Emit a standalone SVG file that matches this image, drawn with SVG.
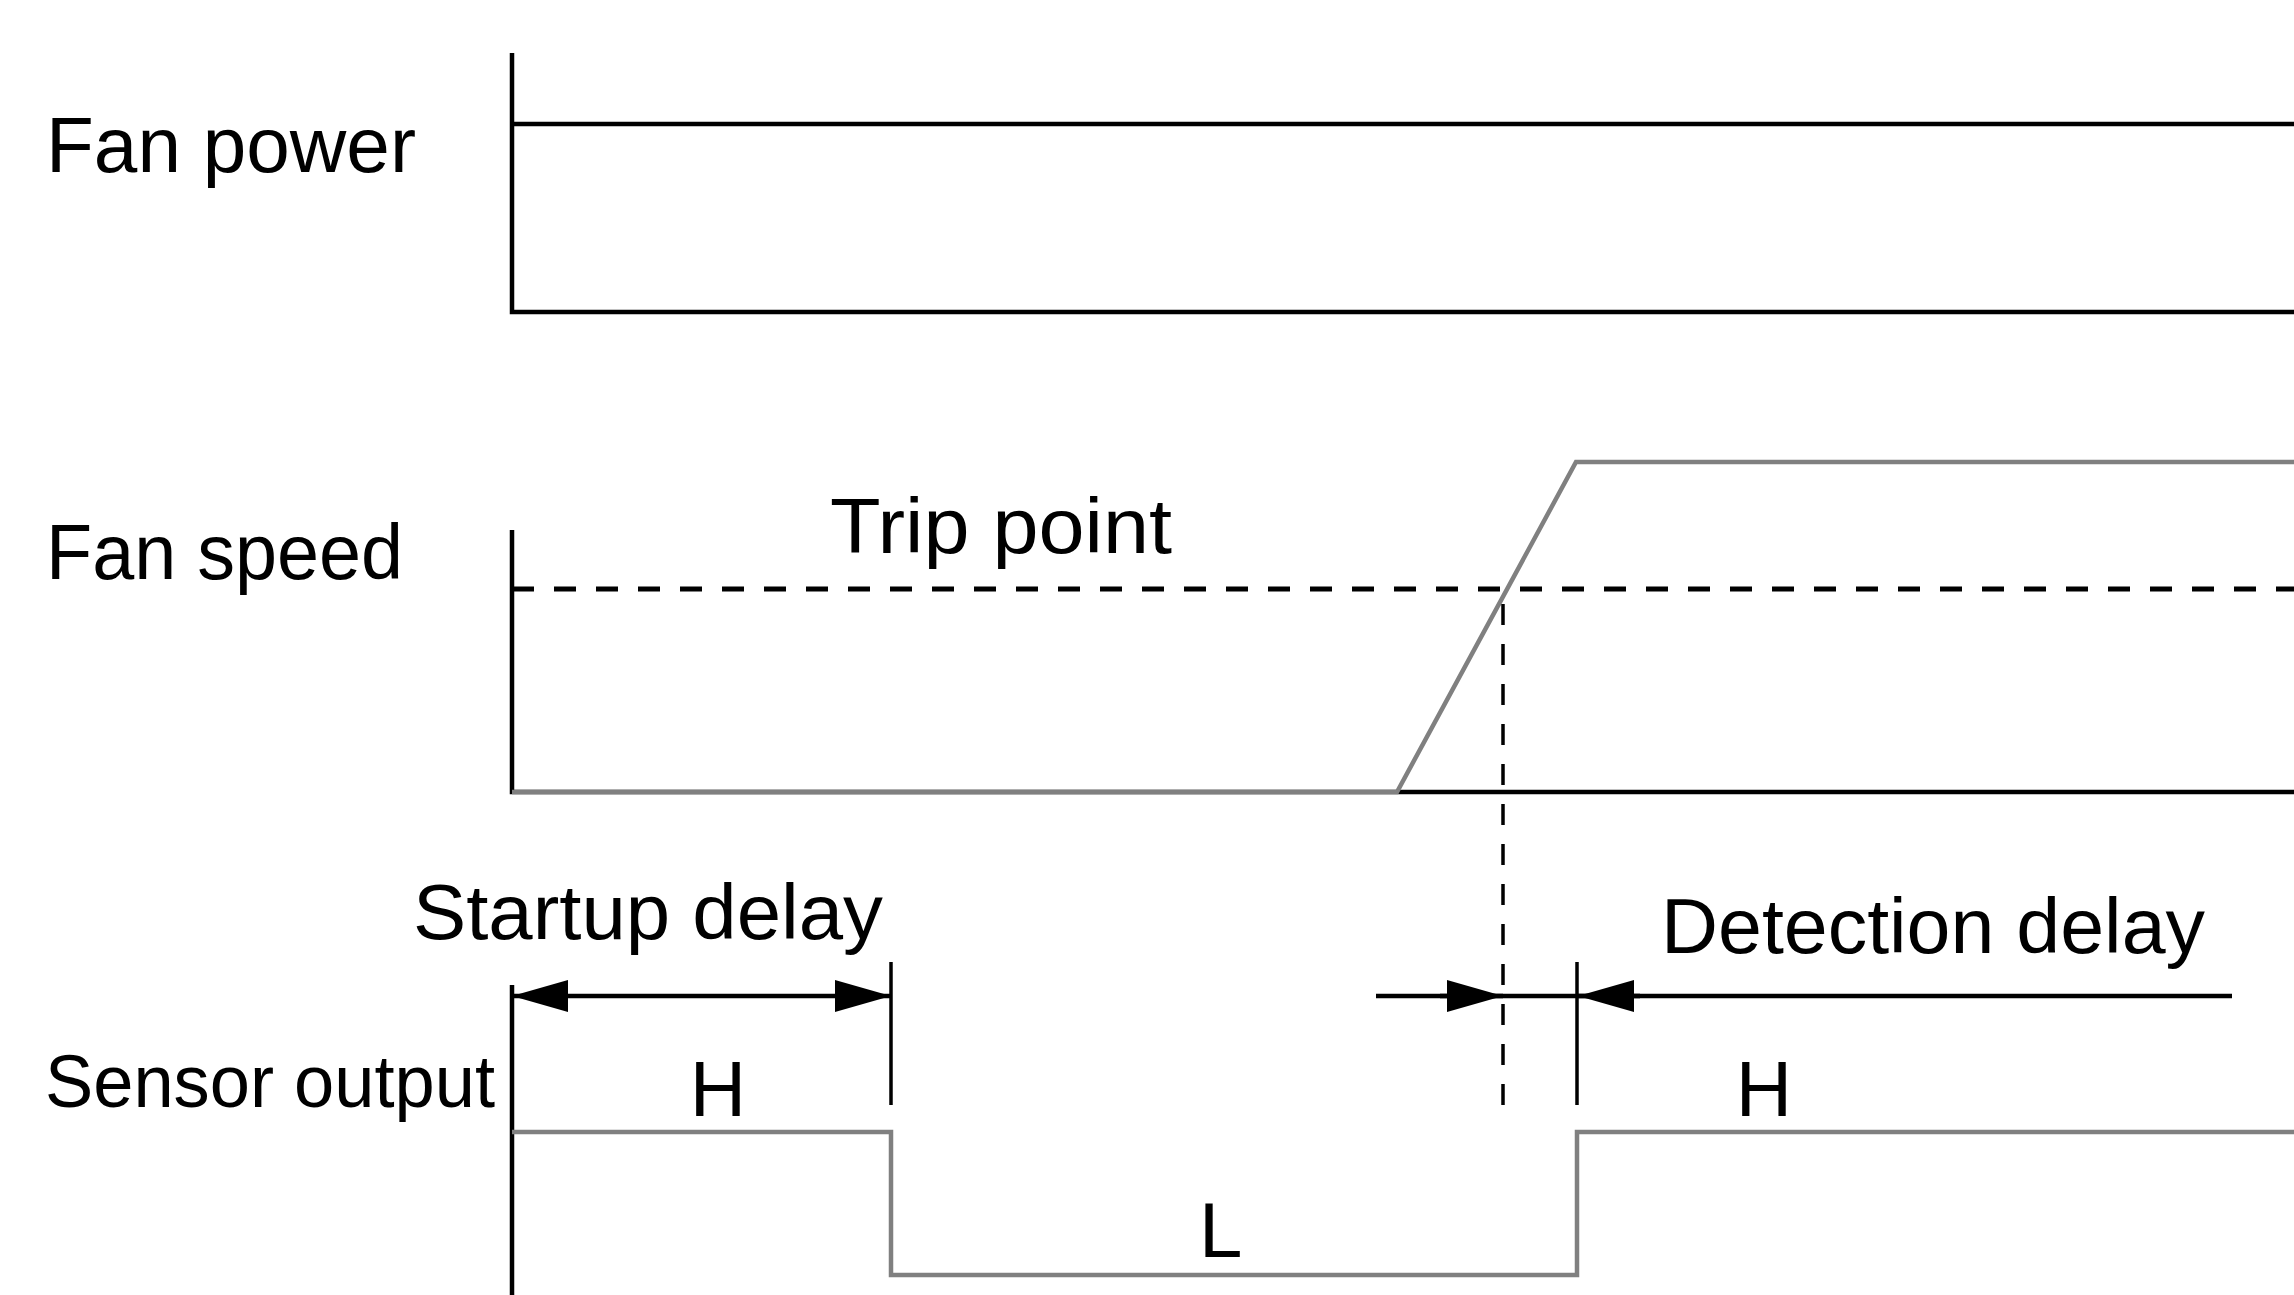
<svg xmlns="http://www.w3.org/2000/svg" width="2294" height="1295" viewBox="0 0 2294 1295">
<style>
  .lbl { font-family: "Liberation Sans", Arial, sans-serif; font-size: 78px; fill: #000; }
  .axis { fill: none; stroke: #000; stroke-width: 4.5; stroke-linejoin: miter; }
  .wave { fill: none; stroke: #808080; stroke-width: 4.5; stroke-linejoin: miter; }
  .trip { fill: none; stroke: #000; stroke-width: 5; stroke-dasharray: 22 20; }
  .vdash { fill: none; stroke: #000; stroke-width: 3.5; stroke-dasharray: 21 19; }
  .dim { fill: none; stroke: #000; stroke-width: 4.5; }
  .tick { fill: none; stroke: #000; stroke-width: 3.5; }
</style>
<defs>
  <marker id="arrow" markerUnits="userSpaceOnUse" markerWidth="56" markerHeight="32" refX="56" refY="16" orient="auto-start-reverse" viewBox="0 0 56 32">
    <path d="M0,0 L56,16 L0,32 Z" fill="#000"/>
  </marker>
</defs>
<rect width="2294" height="1295" fill="#fff"/>

<g id="fan-power">
  <text class="lbl" x="46" y="172" textLength="370" lengthAdjust="spacingAndGlyphs">Fan power</text>
  <path class="axis" d="M512,53 V312 H2294"/>
  <path class="axis" d="M512,124 H2294"/>
</g>

<g id="fan-speed">
  <text class="lbl" x="46" y="579" textLength="357" lengthAdjust="spacingAndGlyphs">Fan speed</text>
  <path class="axis" d="M512,530 V792 H2294"/>
  <path class="wave" d="M512,792 H1397 L1576,462 H2294"/>
  <path class="trip" d="M512,589 H2294"/>
  <text class="lbl" x="830" y="553" textLength="342" lengthAdjust="spacingAndGlyphs">Trip point</text>
</g>

<g id="sensor-output">
  <text class="lbl" x="45" y="1107" style="font-size:74px" textLength="450" lengthAdjust="spacingAndGlyphs">Sensor output</text>
  <path class="axis" d="M512,985 V1295"/>
  <path class="wave" d="M512,1132 H891 V1275 H1577 V1132 H2294"/>
  <text class="lbl" x="718" y="1116" text-anchor="middle">H</text>
  <text class="lbl" x="1764" y="1116" text-anchor="middle">H</text>
  <text class="lbl" x="1199" y="1257">L</text>
</g>

<g id="connectors">
  <path class="vdash" d="M1503,1105 V589"/>
  <path class="tick" d="M891,962 V1105"/>
  <path class="tick" d="M1577,962 V1105"/>
  <path class="dim" d="M512,996 H891" marker-start="url(#arrow)" marker-end="url(#arrow)"/>
  <path class="dim" d="M1376,996 H2232"/>
  <path class="dim" d="M1440,996 H1503" marker-end="url(#arrow)"/>
  <path class="dim" d="M1640,996 H1578" marker-end="url(#arrow)"/>
  <text class="lbl" x="413" y="939" textLength="470" lengthAdjust="spacingAndGlyphs">Startup delay</text>
  <text class="lbl" x="1661" y="953" textLength="544" lengthAdjust="spacingAndGlyphs">Detection delay</text>
</g>
</svg>
